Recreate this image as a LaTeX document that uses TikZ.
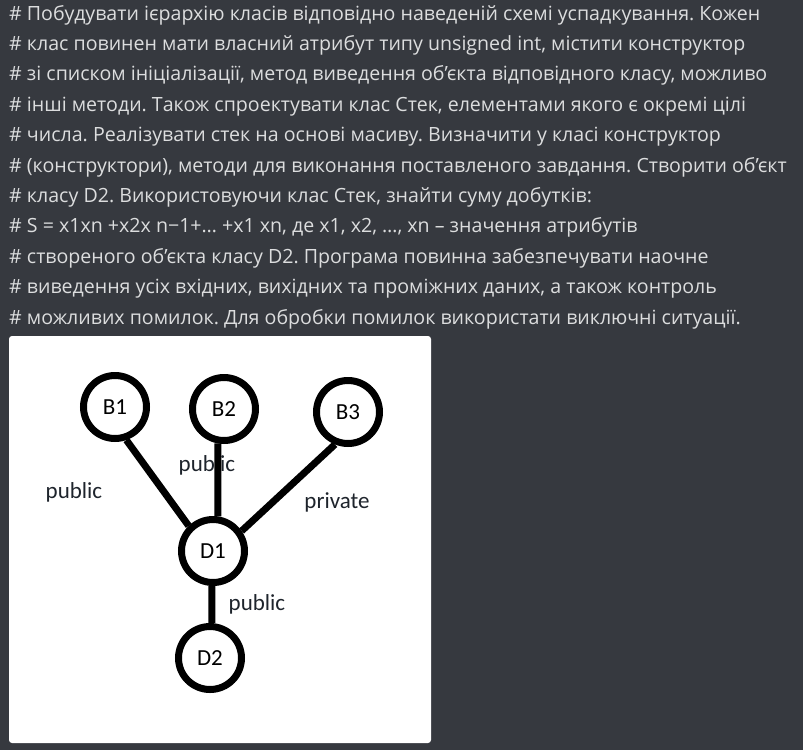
\documentclass[tikz,border=0pt]{standalone}
\usepackage{fontspec}
\setmainfont{Open Sans}
\newfontfamily\diagfont{Carlito}
\definecolor{bgc}{HTML}{36393F}
\definecolor{textc}{HTML}{DCDDDE}
\definecolor{labelc}{HTML}{1E242C}
\frenchspacing
\begin{document}
\begin{tikzpicture}[x=1pt,y=-1pt,
  edge/.style={line width=7pt},
  cls/.style={circle,draw,line width=7pt,minimum size=63pt,inner sep=0pt,fill=white,
    font=\diagfont\fontsize{23}{23}\selectfont},
  acc/.style={font=\diagfont\fontsize{23}{23}\selectfont,text=labelc,inner sep=0pt},
  para/.style={anchor=base west,text=textc,inner sep=0pt,
    font=\fontsize{19.6}{22}\selectfont}]
  % page
  \fill[bgc] (0,0) rectangle (803,750);
  \useasboundingbox (0,0) rectangle (803,750);

  % task statement
  \node[para] (t1)  at (9,20)    {\# Побудувати ієрархію класів відповідно наведеній схемі успадкування. Кожен};
  \node[para] (t2)  at (9,50.4)  {\# клас повинен мати власний атрибут типу unsigned int, містити конструктор};
  \node[para] (t3)  at (9,80.8)  {\# зі списком ініціалізації, метод виведення об’єкта відповідного класу, можливо};
  \node[para] (t4)  at (9,111.2) {\# інші методи. Також спроектувати клас Стек, елементами якого є окремі цілі};
  \node[para] (t5)  at (9,141.6) {\# числа. Реалізувати стек на основі масиву. Визначити у класі конструктор};
  \node[para] (t6)  at (9,172)   {\# (конструктори), методи для виконання поставленого завдання. Створити об’єкт};
  \node[para] (t7)  at (9,202.4) {\# класу D2. Використовуючи клас Стек, знайти суму добутків:};
  \node[para] (t8)  at (9,232.8) {\# S = x1xn +x2x n−1+… +x1 xn, де x1, x2, …, xn – значення атрибутів};
  \node[para] (t9)  at (9,263.2) {\# створеного об’єкта класу D2. Програма повинна забезпечувати наочне};
  \node[para] (t10) at (9,293.6) {\# виведення усіх вхідних, вихідних та проміжних даних, а також контроль};
  \node[para] (t11) at (9,324)   {\# можливих помилок. Для обробки помилок використати виключні ситуації.};

  % embedded scheme
  \fill[white, rounded corners=3pt] (9,336) rectangle (431,743);

  % access labels (drawn before the edges, which pass over them)
  \node[acc] (l1) at (74,492)  {public};
  \node[acc] (l2) at (207,465) {public};
  \node[acc] (l3) at (337,502) {private};
  \node[acc] (l4) at (257,604) {public};

  % classes
  \node[cls] (B1) at (115,407) {B1};
  \node[cls] (B2) at (224,409) {B2};
  \node[cls] (B3) at (348,412) {B3};
  \node[cls] (D1) at (213,551) {D1};
  \node[cls] (D2) at (210,658) {D2};

  % inheritance links
  \draw[edge] (B1.289) -- (D1.134);
  \draw[edge] (B2.260) -- (D1.82);
  \draw[edge] (B3.248) -- (D1.35);
  \draw[edge] (D1.268) -- (D2.87);
\end{tikzpicture}
\end{document}
